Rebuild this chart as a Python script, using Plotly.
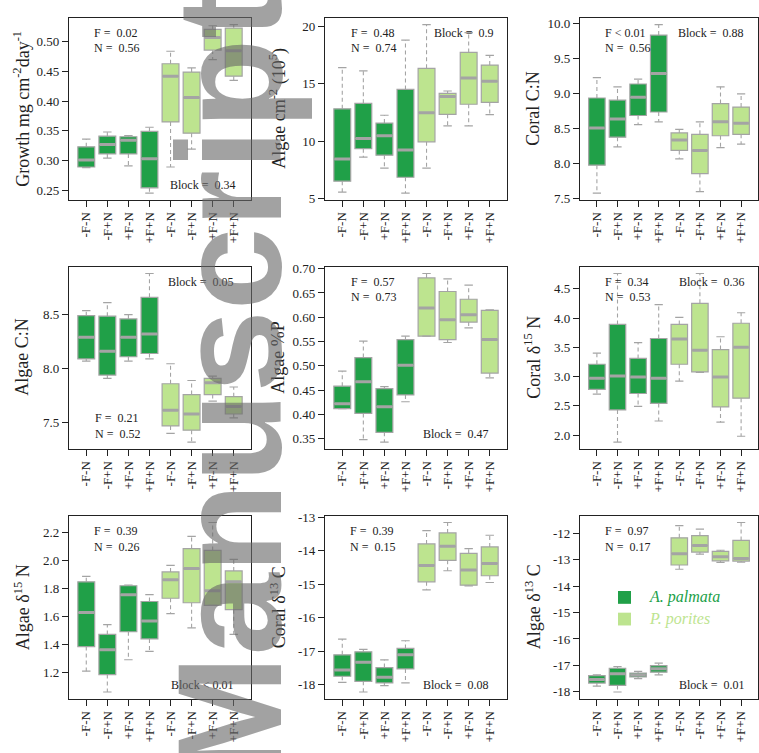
import plotly.graph_objects as go

W, H = 759, 753

# ---------------- data ----------------
GROUPS = ["-F-N", "-F+N", "+F-N", "+F+N", "-F-N", "-F+N", "+F-N", "+F+N"]
SPECIES = ["A. palmata", "P. porites"]

growth_lo  = [0.288, 0.304, 0.291, 0.245, 0.289, 0.319, 0.470, 0.435]
growth_q1  = [0.289, 0.311, 0.311, 0.254, 0.365, 0.346, 0.486, 0.442]
growth_med = [0.301, 0.327, 0.334, 0.303, 0.442, 0.406, 0.507, 0.485]
growth_q3  = [0.323, 0.341, 0.340, 0.349, 0.463, 0.449, 0.521, 0.523]
growth_hi  = [0.336, 0.348, 0.342, 0.356, 0.484, 0.456, 0.527, 0.529]

algae_lo  = [5.57, 8.61, 7.65, 5.48, 7.65, 11.32, 11.32, 12.30]
algae_q1  = [6.52, 9.34, 8.78, 6.86, 9.94, 12.33, 13.21, 13.37]
algae_med = [8.44, 10.22, 10.47, 9.23, 12.47, 13.88, 15.49, 15.21]
algae_q3  = [12.81, 13.29, 11.57, 14.50, 16.33, 14.16, 17.72, 16.62]
algae_hi  = [16.39, 16.11, 12.25, 18.79, 20.14, 14.36, 19.44, 17.46]

coralcn_lo  = [7.58, 8.24, 8.56, 8.60, 8.07, 7.60, 8.23, 8.28]
coralcn_q1  = [7.98, 8.38, 8.69, 8.74, 8.19, 7.86, 8.40, 8.42]
coralcn_med = [8.51, 8.64, 8.95, 9.29, 8.34, 8.19, 8.60, 8.58]
coralcn_q3  = [8.94, 8.91, 9.14, 9.84, 8.44, 8.42, 8.86, 8.81]
coralcn_hi  = [9.23, 9.10, 9.21, 9.99, 8.49, 8.60, 9.10, 9.00]

algaecn_lo  = [8.07, 7.91, 8.07, 8.09, 7.40, 7.32, 7.70, 7.545]
algaecn_q1  = [8.09, 7.94, 8.11, 8.14, 7.47, 7.43, 7.76, 7.58]
algaecn_med = [8.29, 8.16, 8.29, 8.32, 7.615, 7.58, 7.87, 7.65]
algaecn_q3  = [8.49, 8.485, 8.46, 8.66, 7.86, 7.76, 7.91, 7.74]
algaecn_hi  = [8.536, 8.61, 8.50, 8.88, 8.045, 7.89, 7.93, 7.83]

algaep_lo  = [0.412, 0.348, 0.343, 0.426, 0.561, 0.548, 0.578, 0.475]
algaep_q1  = [0.412, 0.402, 0.363, 0.440, 0.561, 0.554, 0.590, 0.485]
algaep_med = [0.422, 0.467, 0.416, 0.501, 0.619, 0.595, 0.605, 0.554]
algaep_q3  = [0.458, 0.517, 0.453, 0.554, 0.681, 0.653, 0.637, 0.614]
algaep_hi  = [0.489, 0.551, 0.457, 0.561, 0.690, 0.679, 0.666, 0.615]

coraln_lo  = [2.70, 1.88, 2.49, 2.24, 2.92, 3.07, 2.22, 1.98]
coraln_q1  = [2.78, 2.43, 2.71, 2.54, 3.21, 3.08, 2.48, 2.63]
coraln_med = [2.97, 3.01, 2.99, 2.97, 3.64, 3.45, 2.99, 3.50]
coraln_q3  = [3.21, 3.89, 3.31, 3.65, 3.89, 4.25, 3.46, 3.91]
coraln_hi  = [3.40, 4.76, 3.58, 4.23, 4.01, 4.76, 3.68, 4.09]

algaen_lo  = [1.212, 1.064, 1.293, 1.352, 1.621, 1.520, 1.679, 1.473]
algaen_q1  = [1.387, 1.188, 1.492, 1.441, 1.730, 1.698, 1.679, 1.649]
algaen_med = [1.628, 1.364, 1.754, 1.569, 1.861, 1.941, 1.784, 1.847]
algaen_q3  = [1.847, 1.473, 1.819, 1.707, 1.917, 2.083, 2.070, 1.924]
algaen_hi  = [1.885, 1.543, 1.824, 1.756, 1.964, 2.170, 2.268, 2.006]

coralc_lo  = [-17.93, -18.22, -18.03, -17.95, -15.17, -14.60, -15.05, -14.95]
coralc_q1  = [-17.75, -17.90, -17.95, -17.53, -14.93, -14.29, -15.03, -14.75]
coralc_med = [-17.56, -17.33, -17.78, -17.11, -14.44, -13.87, -14.58, -14.38]
coralc_q3  = [-17.11, -17.02, -17.49, -16.92, -13.80, -13.47, -14.08, -13.89]
coralc_hi  = [-16.64, -16.95, -17.26, -16.69, -13.40, -13.16, -13.94, -13.54]

algaec_lo  = [-17.79, -18.01, -17.50, -17.36, -13.36, -12.79, -13.10, -13.09]
algaec_q1  = [-17.67, -17.76, -17.44, -17.26, -13.20, -12.71, -13.04, -13.05]
algaec_med = [-17.54, -17.32, -17.36, -17.13, -12.77, -12.46, -12.89, -12.95]
algaec_q3  = [-17.39, -17.11, -17.29, -17.01, -12.17, -12.09, -12.68, -12.27]
algaec_hi  = [-17.36, -17.05, -17.23, -16.92, -11.71, -11.84, -12.64, -11.59]

# y tick values per panel
growth_ticks  = [0.25, 0.30, 0.35, 0.40, 0.45, 0.50]
algae_ticks   = [5, 10, 15, 20]
coralcn_ticks = [7.5, 8.0, 8.5, 9.0, 9.5, 10.0]
algaecn_ticks = [7.5, 8.0, 8.5]
algaep_ticks  = [0.35, 0.40, 0.45, 0.50, 0.55, 0.60, 0.65, 0.70]
coraln_ticks  = [2.0, 2.5, 3.0, 3.5, 4.0, 4.5]
algaen_ticks  = [1.2, 1.4, 1.6, 1.8, 2.0, 2.2]
coralc_ticks  = [-18, -17, -16, -15, -14, -13]
algaec_ticks  = [-18, -17, -16, -15, -14, -13, -12]

# statistics text
p_F     = ["0.02", "0.48", "< 0.01", "0.21", "0.57", "0.34", "0.39", "0.39", "0.97"]
p_N     = ["0.56", "0.74", "0.56", "0.52", "0.73", "0.53", "0.26", "0.15", "0.17"]
p_Block = ["0.34", "0.9", "0.88", "0.05", "0.47", "0.36", "< 0.01", "0.08", "0.01"]

# ---------------- styling ----------------
DARK = "#20A048"
LIGHT = "#BDE48F"
EDGE = "#A4A4A4"
SERIF = "Liberation Serif"

COLS = [(69, 251), (325, 507), (580, 758)]
ROWS = [(12, 197), (265, 450), (518, 704)]
TITLE_X = [22, 278, 533]


def px(x):
    return x / W


def py(y):
    return 1 - y / H


panels = [
    dict(lo=growth_lo, q1=growth_q1, med=growth_med, q3=growth_q3, hi=growth_hi,
         ticks=growth_ticks, fmt=".2f",
         title="Growth mg cm<sup>-2</sup>day<sup>-1</sup>",
         fpos=(92, 27), bpos=(237, 182)),
    dict(lo=algae_lo, q1=algae_q1, med=algae_med, q3=algae_q3, hi=algae_hi,
         ticks=algae_ticks, fmt="d",
         title="Algae cm<sup>-2</sup> (10<sup>5</sup>)",
         fpos=(349, 27), bpos=(495, 27)),
    dict(lo=coralcn_lo, q1=coralcn_q1, med=coralcn_med, q3=coralcn_q3, hi=coralcn_hi,
         ticks=coralcn_ticks, fmt=".1f", title="Coral C:N",
         fpos=(603, 27), bpos=(745, 27)),
    dict(lo=algaecn_lo, q1=algaecn_q1, med=algaecn_med, q3=algaecn_q3, hi=algaecn_hi,
         ticks=algaecn_ticks, fmt=".1f", title="Algae C:N",
         fpos=(93, 419), bpos=(235, 280)),
    dict(lo=algaep_lo, q1=algaep_q1, med=algaep_med, q3=algaep_q3, hi=algaep_hi,
         ticks=algaep_ticks, fmt=".2f", title="Algae %P",
         fpos=(349, 280), bpos=(490, 435)),
    dict(lo=coraln_lo, q1=coraln_q1, med=coraln_med, q3=coraln_q3, hi=coraln_hi,
         ticks=coraln_ticks, fmt=".1f", title="Coral δ<sup>15</sup> N",
         fpos=(603, 280), bpos=(746, 280)),
    dict(lo=algaen_lo, q1=algaen_q1, med=algaen_med, q3=algaen_q3, hi=algaen_hi,
         ticks=algaen_ticks, fmt=".1f", title="Algae δ<sup>15</sup> N",
         fpos=(92, 534), bpos=(235, 690)),
    dict(lo=coralc_lo, q1=coralc_q1, med=coralc_med, q3=coralc_q3, hi=coralc_hi,
         ticks=coralc_ticks, fmt="d", title="Coral δ<sup>13</sup> C",
         fpos=(348, 534), bpos=(490, 690)),
    dict(lo=algaec_lo, q1=algaec_q1, med=algaec_med, q3=algaec_q3, hi=algaec_hi,
         ticks=algaec_ticks, fmt="d", title="Algae δ<sup>13</sup> C",
         fpos=(603, 534), bpos=(746, 690)),
]

fig = go.Figure()
annotations = []
shapes = []
layout = {}
BOXW = 0.8
CAPW = 0.4

for k, p in enumerate(panels):
    r, c = divmod(k, 3)
    sfx = "" if k == 0 else str(k + 1)
    xa, ya = "x" + sfx, "y" + sfx
    xpos = list(range(1, 9))

    # boxes (one trace per species)
    for s, col in enumerate([DARK, LIGHT]):
        sl = slice(4 * s, 4 * s + 4)
        fig.add_trace(go.Box(
            x=xpos[sl], q1=p["q1"][sl], median=p["med"][sl], q3=p["q3"][sl],
            lowerfence=p["q1"][sl], upperfence=p["q3"][sl],
            width=BOXW, fillcolor=col, line=dict(color=EDGE, width=1.2),
            boxpoints=False, showlegend=False, hoverinfo="skip",
            xaxis=xa, yaxis=ya, name=SPECIES[s]))

    # whiskers (dashed), caps, medians
    wx, wy, cx, cy, mx, my = [], [], [], [], [], []
    for i in range(8):
        xi = xpos[i]
        wx += [xi, xi, None, xi, xi, None]
        wy += [p["q3"][i], p["hi"][i], None, p["q1"][i], p["lo"][i], None]
        cx += [xi - CAPW / 2, xi + CAPW / 2, None, xi - CAPW / 2, xi + CAPW / 2, None]
        cy += [p["hi"][i], p["hi"][i], None, p["lo"][i], p["lo"][i], None]
        mx += [xi - BOXW / 2 + 0.03, xi + BOXW / 2 - 0.03, None]
        my += [p["med"][i], p["med"][i], None]
    fig.add_trace(go.Scatter(x=wx, y=wy, mode="lines", xaxis=xa, yaxis=ya,
                             line=dict(color=EDGE, width=1.1, dash="4px,3px"),
                             showlegend=False, hoverinfo="skip"))
    fig.add_trace(go.Scatter(x=cx, y=cy, mode="lines", xaxis=xa, yaxis=ya,
                             line=dict(color=EDGE, width=1.2),
                             showlegend=False, hoverinfo="skip"))
    fig.add_trace(go.Scatter(x=mx, y=my, mode="lines", xaxis=xa, yaxis=ya,
                             line=dict(color=EDGE, width=3),
                             showlegend=False, hoverinfo="skip"))

    vmin = min(p["lo"])
    vmax = max(p["hi"])
    span = vmax - vmin
    yr = [vmin - 0.04 * span, vmax + 0.04 * span]

    x0, x1 = COLS[c]
    y0, y1 = ROWS[r]
    axis_common = dict(showline=True, mirror=True, linecolor="#222", linewidth=1.3,
                       ticks="outside", ticklen=6, tickcolor="#222", tickwidth=1.2,
                       showgrid=False, zeroline=False,
                       tickfont=dict(family=SERIF, size=13, color="#222"))
    layout["xaxis" + sfx] = dict(axis_common, domain=[px(x0), px(x1)], anchor=ya,
                                 range=[0.18, 8.82], tickmode="array",
                                 tickvals=xpos, ticktext=GROUPS, tickangle=-90)
    layout["yaxis" + sfx] = dict(axis_common, domain=[py(y1), py(y0)], anchor=xa,
                                 range=yr, tickmode="array", tickvals=p["ticks"],
                                 ticktext=[format(t, p["fmt"]) for t in p["ticks"]])

    # axis title
    annotations.append(dict(text=p["title"], x=px(TITLE_X[c]), y=py((y0 + y1) / 2),
                            xref="paper", yref="paper", textangle=-90, showarrow=False,
                            xanchor="center", yanchor="middle",
                            font=dict(family=SERIF, size=18, color="#222")))
    # stats
    fx, fy = p["fpos"]
    ftxt = ("F " + p_F[k]) if p_F[k].startswith("<") else ("F = \u00a0" + p_F[k])
    annotations.append(dict(text=ftxt, x=px(fx), y=py(fy), xref="paper", yref="paper",
                            showarrow=False, xanchor="left", yanchor="middle",
                            font=dict(family=SERIF, size=12, color="#222")))
    annotations.append(dict(text="N = \u00a0" + p_N[k], x=px(fx), y=py(fy + 16),
                            xref="paper", yref="paper", showarrow=False,
                            xanchor="left", yanchor="middle",
                            font=dict(family=SERIF, size=12, color="#222")))
    bx, by = p["bpos"]
    btxt = ("Block " + p_Block[k]) if p_Block[k].startswith("<") else ("Block = \u00a0" + p_Block[k])
    annotations.append(dict(text=btxt, x=px(bx), y=py(by), xref="paper", yref="paper",
                            showarrow=False, xanchor="right", yanchor="middle",
                            font=dict(family=SERIF, size=12, color="#222")))

# legend (in last panel)
for s, (col, ly) in enumerate([(DARK, 601), (LIGHT, 623)]):
    shapes.append(dict(type="rect", xref="paper", yref="paper",
                       x0=px(618), x1=px(631), y0=py(ly + 6.5), y1=py(ly - 6.5),
                       fillcolor=col, line=dict(width=0)))
    annotations.append(dict(text="<i>" + SPECIES[s] + "</i>", x=px(647), y=py(ly),
                            xref="paper", yref="paper", showarrow=False,
                            xanchor="left", yanchor="middle",
                            font=dict(family=SERIF, size=16, color=col)))

# watermark
annotations.append(dict(text="<b>Manuscript</b>", x=px(230), y=py(385), xref="paper", yref="paper",
                        textangle=-90, showarrow=False, xanchor="center", yanchor="middle",
                        font=dict(family="Liberation Sans", size=148,
                                  color="rgba(105,105,105,0.62)")))

fig.update_layout(width=W, height=H, margin=dict(l=0, r=0, t=0, b=0),
                  paper_bgcolor="white", plot_bgcolor="white",
                  showlegend=False, annotations=annotations, shapes=shapes, **layout)

fig.write_html("out.html")
